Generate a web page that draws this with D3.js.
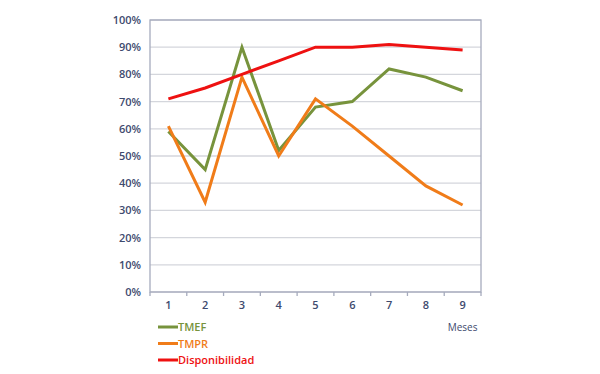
<!DOCTYPE html>
<html>
<head>
<meta charset="utf-8">
<script src="https://cdn.jsdelivr.net/npm/d3@7"></script>
<style>
  body { margin: 0; background: #fff; }
  svg text { font-family: "Open Sans", sans-serif; }
</style>
</head>
<body>
<div id="chart"></div>
<script>
// chart values
let months = [1, 2, 3, 4, 5, 6, 7, 8, 9];
let tmef = [59, 45, 90, 52, 68, 70, 82, 79, 74];
let tmpr = [61, 33, 79, 50, 71, 61, 50, 39, 32];
let disponibilidad = [71, 75, 80, 85, 90, 90, 91, 90, 89];
let yTicks = [0, 10, 20, 30, 40, 50, 60, 70, 80, 90, 100];
let seriesNames = ["TMEF", "TMPR", "Disponibilidad"];

let width = 600
let height = 374

let margin = {top: 20, left: 150, right: 119, bottom: 82};

let svg = d3.select("#chart").append("svg")
    .attr("width", width)
    .attr("height", height);

let x = d3.scaleBand()
    .domain(months)
    .range([margin.left, width - margin.right]);

let y = d3.scaleLinear()
    .domain([0, 100])
    .range([height - margin.bottom, margin.top]);

// gridlines
svg.append("g")
    .selectAll("line")
    .data(yTicks)
    .enter().append("line")
    .attr("x1", margin.left)
    .attr("x2", width - margin.right)
    .attr("y1", d => y(d))
    .attr("y2", d => y(d))
    .attr("stroke", "#d4d6dc")
    .attr("stroke-width", 1.3);

// plot border
svg.append("rect")
    .attr("x", margin.left)
    .attr("y", margin.top)
    .attr("width", width - margin.left - margin.right)
    .attr("height", height - margin.top - margin.bottom)
    .attr("fill", "none")
    .attr("stroke", "#a6abbd")
    .attr("stroke-width", 1.3);

// y axis labels
svg.append("g")
    .selectAll("text")
    .data(yTicks)
    .enter().append("text")
    .attr("x", margin.left - 9)
    .attr("y", d => y(d) + 4)
    .attr("text-anchor", "end")
    .attr("font-size", 11)
    .attr("font-weight", 600)
    .attr("fill", "#3e4a6e")
    .text(d => d + "%");

// x axis ticks at category edges
let edges = months.map(d => x(d)).concat([x(months[months.length - 1]) + x.bandwidth()]);
svg.append("g")
    .selectAll("line")
    .data(edges)
    .enter().append("line")
    .attr("x1", d => d)
    .attr("x2", d => d)
    .attr("y1", y(0))
    .attr("y2", y(0) + 4)
    .attr("stroke", "#a6abbd")
    .attr("stroke-width", 1.3);

svg.append("g")
    .selectAll("text")
    .data(months)
    .enter().append("text")
    .attr("x", d => x(d) + x.bandwidth() / 2)
    .attr("y", y(0) + 17)
    .attr("text-anchor", "middle")
    .attr("font-size", 11)
    .attr("font-weight", 600)
    .attr("fill", "#3e4a6e")
    .text(d => d);

svg.append("text")
    .attr("x", x(9) + x.bandwidth() / 2)
    .attr("y", 331)
    .attr("text-anchor", "middle")
    .attr("font-size", 10)
    .attr("fill", "#3e4a6e")
    .text("Meses");

let colors = ["#77933c", "#f07c19", "#ee1111"];
let data = [tmef, tmpr, disponibilidad];

let line = d3.line()
    .x((d, i) => x(months[i]) + x.bandwidth() / 2)
    .y(d => y(d));

svg.append("g")
    .selectAll("path")
    .data(data)
    .enter().append("path")
    .attr("d", d => line(d))
    .attr("fill", "none")
    .attr("stroke", (d, i) => colors[i])
    .attr("stroke-width", 3)
    .attr("stroke-linejoin", "miter");

// legend
let legend = svg.append("g")
    .selectAll("g")
    .data(seriesNames)
    .enter().append("g")
    .attr("transform", (d, i) => "translate(158," + (327 + i * 16.5) + ")");

legend.append("line")
    .attr("x1", 0)
    .attr("x2", 20)
    .attr("stroke", (d, i) => colors[i])
    .attr("stroke-width", 3);

legend.append("text")
    .attr("x", 20)
    .attr("y", 4)
    .attr("font-size", 11)
    .attr("font-weight", 600)
    .attr("fill", (d, i) => colors[i])
    .text(d => d);
</script>
</body>
</html>
